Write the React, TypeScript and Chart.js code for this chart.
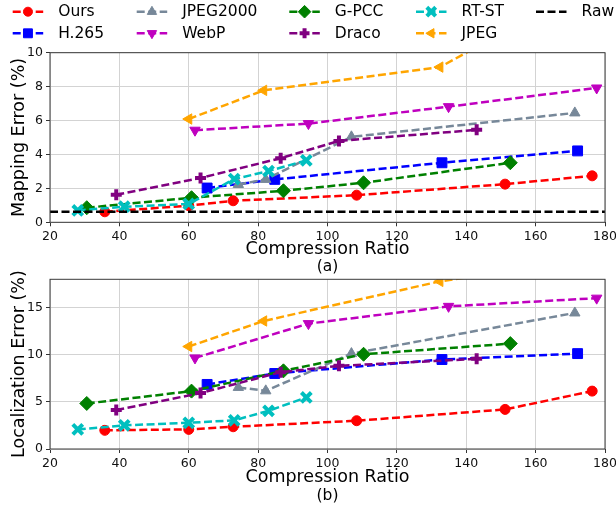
import React, { useEffect, useRef } from 'react';
import { Chart, registerables } from 'chart.js';
import { drawPoint } from 'chart.js/helpers';

Chart.register(...registerables);

const FONT = "'DejaVu Sans', 'Liberation Sans', sans-serif";

// Compression ratio (x) and errors (%) for each method
const oursX = [35.8, 60.0, 72.8, 108.4, 151.2, 176.3];
const oursMap = [0.62, 0.98, 1.27, 1.6, 2.25, 2.74];
const oursLoc = [1.98, 2.08, 2.36, 3.0, 4.2, 6.14];

const h265X = [65.3, 84.8, 133.0, 172.1];
const h265Map = [2.02, 2.53, 3.51, 4.21];
const h265Loc = [6.85, 8.01, 9.49, 10.12];

const jp2kX = [74.3, 82.2, 106.9, 171.3];
const jp2kMap = [2.23, 2.53, 5.04, 6.45];
const jp2kLoc = [6.53, 6.17, 10.12, 14.43];

const webpX = [61.8, 94.5, 134.9, 177.6];
const webpMap = [5.43, 5.82, 6.82, 7.92];
const webpLoc = [9.66, 13.3, 15.13, 16.0];

const gpccX = [30.6, 60.8, 87.3, 110.4, 152.7];
const gpccMap = [0.86, 1.45, 1.86, 2.33, 3.51];
const gpccLoc = [4.83, 6.14, 8.29, 10.05, 11.18];

const dracoX = [39.1, 63.4, 86.5, 103.3, 143.0];
const dracoMap = [1.62, 2.61, 3.78, 4.8, 5.45];
const dracoLoc = [4.13, 5.93, 8.15, 8.82, 9.56];

const rtstX = [28.0, 41.4, 60.0, 73.1, 83.0, 93.9];
const rtstMap = [0.7, 0.92, 1.08, 2.55, 3.02, 3.65];
const rtstLoc = [2.08, 2.51, 2.78, 3.04, 4.05, 5.47];

const jpegX = [60.0, 81.6, 132.4, 175.0];
const jpegMap = [6.09, 7.78, 9.15, 13.9];
const jpegLoc = [10.87, 13.58, 17.78, 20.1];

const rawX = [20, 180];
const rawMap = [0.62, 0.62];

const xTicks = { min: 20, max: 180, step: 20 };
const mapTicks = { min: 0, max: 10, step: 2 };
const locTicks = { min: 0, max: 18, step: 5 };

type Series = {
  label: string;
  color: string;
  style: string | false;
  rotation: number;
  radius: number;
  markerWidth: number;
  x: number[];
  map: number[];
  loc: number[] | null;
};

const SERIES: Series[] = [
  { label: 'Ours', color: '#ff0000', style: 'circle', rotation: 0, radius: 5, markerWidth: 1, x: oursX, map: oursMap, loc: oursLoc },
  { label: 'H.265', color: '#0000ff', style: 'rect', rotation: 0, radius: 7, markerWidth: 1, x: h265X, map: h265Map, loc: h265Loc },
  { label: 'JPEG2000', color: '#778899', style: 'triangle', rotation: 0, radius: 6, markerWidth: 1, x: jp2kX, map: jp2kMap, loc: jp2kLoc },
  { label: 'WebP', color: '#bf00bf', style: 'triangle', rotation: 180, radius: 6, markerWidth: 1, x: webpX, map: webpMap, loc: webpLoc },
  { label: 'G-PCC', color: '#008000', style: 'rectRot', rotation: 0, radius: 7, markerWidth: 1, x: gpccX, map: gpccMap, loc: gpccLoc },
  { label: 'Draco', color: '#800080', style: 'cross', rotation: 0, radius: 5.5, markerWidth: 4, x: dracoX, map: dracoMap, loc: dracoLoc },
  { label: 'RT-ST', color: '#00bfbf', style: 'crossRot', rotation: 0, radius: 7, markerWidth: 4, x: rtstX, map: rtstMap, loc: rtstLoc },
  { label: 'JPEG', color: '#ffa500', style: 'triangle', rotation: 270, radius: 6, markerWidth: 1, x: jpegX, map: jpegMap, loc: jpegLoc },
  { label: 'Raw', color: '#000000', style: false, rotation: 0, radius: 0, markerWidth: 0, x: rawX, map: rawMap, loc: null },
];

const DASH = [8, 3.5];
const LINE_W = 2.5;

// legend grid: column handle start / text start, row centres
const LEGEND_COLS = [12.7, 136.7, 289.3, 416, 536];
const LEGEND_ROWS = [11.7, 33.3];
const HANDLE_LEN = 30.5;

function buildDatasets(key: 'map' | 'loc') {
  const out: any[] = [];
  SERIES.forEach((s, i) => {
    const ys = s[key];
    if (!ys) return;
    out.push({
      label: s.label,
      data: s.x.map((x, j) => ({ x, y: ys[j] })),
      borderColor: s.color,
      backgroundColor: s.color,
      borderWidth: LINE_W,
      borderDash: DASH,
      tension: 0,
      pointStyle: s.style,
      pointRotation: s.rotation,
      pointRadius: s.radius,
      pointBorderWidth: s.markerWidth,
      pointBackgroundColor: s.color,
      pointBorderColor: s.color,
      clip: 0,
      order: SERIES.length - i,
    });
  });
  return out;
}

function makeDecor(opts: { yTitle: string; tag: string; titleY: number; tagY: number; legend: boolean }) {
  return {
    id: 'decor',
    afterDraw(chart: any) {
      const { ctx, chartArea } = chart;
      const { left, right, top, bottom } = chartArea;
      ctx.save();
      // axes frame
      ctx.strokeStyle = '#3a3a3a';
      ctx.lineWidth = 1;
      ctx.setLineDash([]);
      ctx.strokeRect(left, top, right - left, bottom - top);

      ctx.fillStyle = '#000';
      ctx.textAlign = 'center';
      ctx.textBaseline = 'middle';
      const cx = (left + right) / 2;
      ctx.font = `17.5px ${FONT}`;
      ctx.fillText('Compression Ratio', cx, opts.titleY);
      ctx.font = `15.5px ${FONT}`;
      ctx.fillText(opts.tag, cx, opts.tagY);

      ctx.save();
      ctx.translate(19, (top + bottom) / 2);
      ctx.rotate(-Math.PI / 2);
      ctx.font = `17.5px ${FONT}`;
      ctx.fillText(opts.yTitle, 0, 0);
      ctx.restore();

      if (opts.legend) {
        const rows = LEGEND_ROWS.length;
        SERIES.forEach((s, i) => {
          const col = Math.floor(i / rows);
          const row = i % rows;
          const x0 = LEGEND_COLS[col];
          const y = LEGEND_ROWS[row];
          ctx.strokeStyle = s.color;
          ctx.fillStyle = s.color;
          ctx.lineWidth = LINE_W;
          ctx.setLineDash(DASH);
          ctx.beginPath();
          ctx.moveTo(x0, y);
          ctx.lineTo(x0 + HANDLE_LEN, y);
          ctx.stroke();
          ctx.setLineDash([]);
          if (s.style) {
            ctx.lineWidth = s.markerWidth;
            drawPoint(ctx, { pointStyle: s.style, rotation: s.rotation, radius: s.radius * 0.9, borderWidth: s.markerWidth } as any, x0 + HANDLE_LEN / 2, y);
          }
          ctx.fillStyle = '#000';
          ctx.textAlign = 'left';
          ctx.textBaseline = 'middle';
          ctx.font = `15.5px ${FONT}`;
          ctx.fillText(s.label, x0 + HANDLE_LEN + 15, y + 0.5);
        });
      }
      ctx.restore();
    },
  };
}

function axisOptions(t: { min: number; max: number; step: number }, isX: boolean) {
  return {
    type: 'linear',
    min: t.min,
    max: t.max,
    ticks: {
      stepSize: t.step,
      includeBounds: false,
      color: '#111',
      padding: 3,
      font: { family: FONT, size: 12.5 },
    },
    grid: { color: '#d3d3d3', lineWidth: 1, tickColor: '#333', tickLength: 4 },
    border: { display: false },
    afterFit: (s: any) => {
      if (isX) {
        s.height = 20;
        s.paddingLeft = 0;
        s.paddingRight = 0;
      } else {
        s.width = 50;
        s.paddingTop = 0;
        s.paddingBottom = 0;
      }
    },
  };
}

const W = 616;
const H = 508;

export default function App() {
  const refA = useRef<HTMLCanvasElement>(null);
  const refB = useRef<HTMLCanvasElement>(null);

  useEffect(() => {
    const charts: Chart[] = [];
    const make = (
      canvas: HTMLCanvasElement,
      key: 'map' | 'loc',
      yt: { min: number; max: number; step: number },
      padding: any,
      decor: any
    ) =>
      new Chart(canvas, {
        type: 'line',
        data: { datasets: buildDatasets(key) },
        options: {
          animation: false,
          responsive: false,
          devicePixelRatio: 1,
          events: [],
          layout: { padding },
          plugins: { legend: { display: false }, tooltip: { enabled: false } },
          scales: { x: axisOptions(xTicks, true), y: axisOptions(yt, false) } as any,
        },
        plugins: [decor],
      } as any);

    if (refA.current) {
      charts.push(
        make(
          refA.current,
          'map',
          mapTicks,
          { top: 52.7, right: 10.3, bottom: H - 222.3 - 20, left: 0 },
          makeDecor({ yTitle: 'Mapping Error (%)', tag: '(a)', titleY: 249, tagY: 267, legend: true })
        )
      );
    }
    if (refB.current) {
      charts.push(
        make(
          refB.current,
          'loc',
          locTicks,
          { top: 279.3, right: 10.3, bottom: H - 449 - 20, left: 0 },
          makeDecor({ yTitle: 'Localization Error (%)', tag: '(b)', titleY: 477, tagY: 496, legend: false })
        )
      );
    }
    return () => charts.forEach((c) => c.destroy());
  }, []);

  const style: React.CSSProperties = { position: 'absolute', left: 0, top: 0, width: W, height: H };
  return (
    <div style={{ position: 'absolute', left: 0, top: 0, width: W, height: H, background: '#fff' }}>
      <canvas ref={refA} width={W} height={H} style={style} />
      <canvas ref={refB} width={W} height={H} style={style} />
    </div>
  );
}
